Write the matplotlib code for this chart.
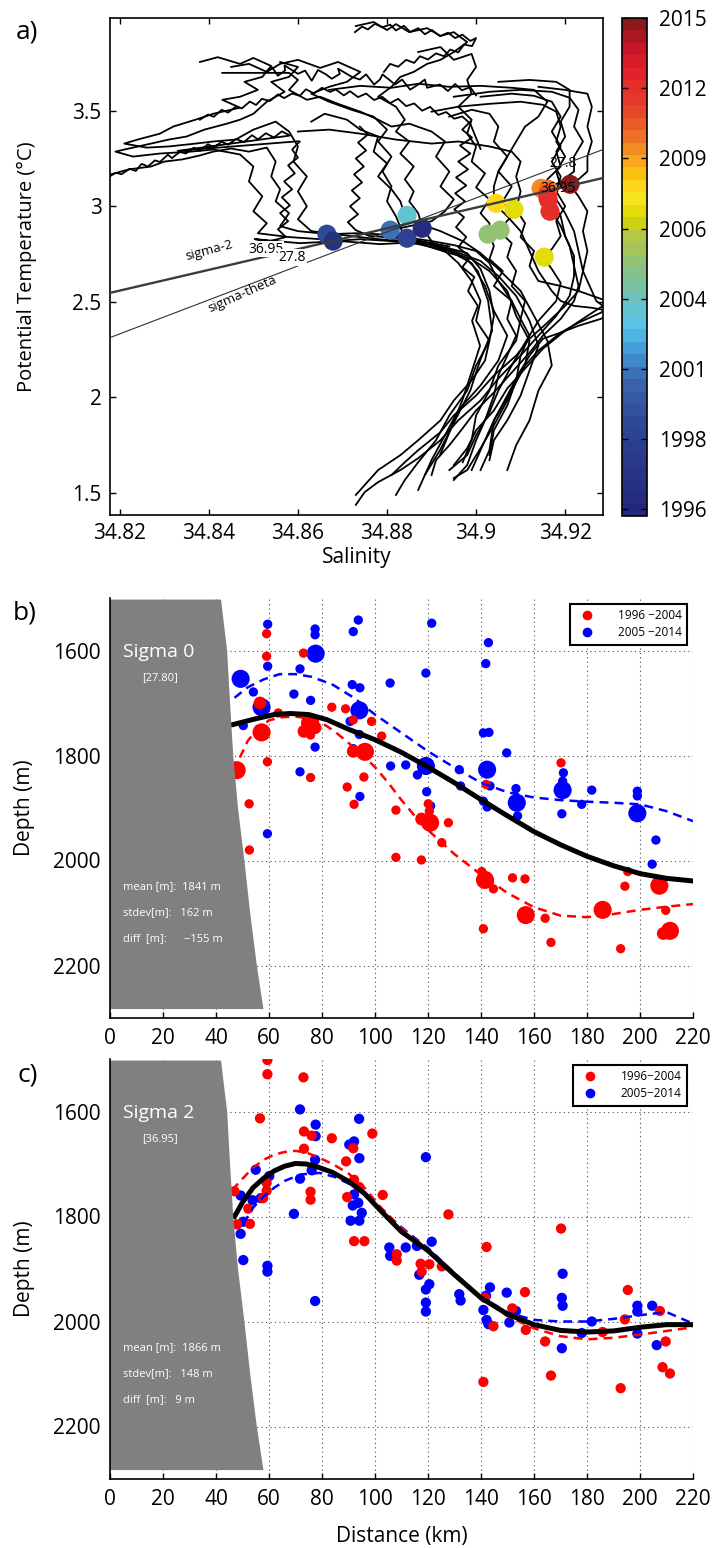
import numpy as np
import matplotlib
matplotlib.use("Agg")
import matplotlib.pyplot as plt
from matplotlib.colors import LinearSegmentedColormap, Normalize
from matplotlib.cm import ScalarMappable
from matplotlib.patches import Polygon
from matplotlib.lines import Line2D
from matplotlib.ticker import FuncFormatter

plt.rcParams["font.family"] = ["Open Sans", "DejaVu Sans"]

# ---------------- panel a: theta-S profiles (salinity, pot. temperature) ----------------
ts_p0 = [(34.838, 3.755), (34.842, 3.78), (34.847, 3.745), (34.850, 3.776), (34.854, 3.734),
         (34.852, 3.677), (34.848, 3.651), (34.851, 3.609), (34.847, 3.573), (34.843, 3.557),
         (34.847, 3.516), (34.841, 3.484), (34.837, 3.453), (34.832, 3.417), (34.829, 3.380),
         (34.824, 3.349), (34.821, 3.328), (34.826, 3.307), (34.831, 3.313), (34.837, 3.328),
         (34.841, 3.339), (34.846, 3.349), (34.850, 3.401), (34.855, 3.443), (34.858, 3.391),
         (34.860, 3.313), (34.859, 3.234), (34.862, 3.156), (34.860, 3.078), (34.862, 3.000),
         (34.860, 2.932), (34.863, 2.870), (34.872, 2.844), (34.878, 2.828), (34.885, 2.818),
         (34.892, 2.792), (34.898, 2.755), (34.901, 2.672), (34.903, 2.557), (34.904, 2.427),
         (34.903, 2.297), (34.900, 2.167), (34.898, 2.036), (34.894, 1.906), (34.891, 1.776),
         (34.887, 1.661), (34.884, 1.568), (34.882, 1.490)]
ts_p1 = [(34.873, 3.943), (34.877, 3.964), (34.880, 3.922), (34.882, 3.953), (34.885, 3.911),
         (34.889, 3.932), (34.892, 3.891), (34.895, 3.911), (34.898, 3.859), (34.895, 3.807),
         (34.892, 3.766), (34.889, 3.745), (34.886, 3.703), (34.883, 3.677), (34.881, 3.625),
         (34.878, 3.573), (34.882, 3.521), (34.884, 3.453), (34.882, 3.391), (34.885, 3.339),
         (34.883, 3.276), (34.886, 3.208), (34.884, 3.141), (34.886, 3.078), (34.885, 3.026),
         (34.887, 2.964), (34.888, 2.885), (34.890, 2.818), (34.893, 2.766), (34.896, 2.703),
         (34.899, 2.609), (34.901, 2.505), (34.900, 2.401), (34.903, 2.297), (34.902, 2.193),
         (34.899, 2.089), (34.895, 1.984), (34.892, 1.880), (34.887, 1.776), (34.883, 1.698),
         (34.878, 1.620), (34.875, 1.542), (34.873, 1.490)]
ts_p2 = [(34.856, 3.755), (34.860, 3.729), (34.858, 3.677), (34.854, 3.651), (34.857, 3.599),
         (34.853, 3.547), (34.850, 3.484), (34.847, 3.453), (34.844, 3.432), (34.839, 3.401),
         (34.835, 3.365), (34.831, 3.349), (34.827, 3.328), (34.822, 3.302), (34.819, 3.286),
         (34.823, 3.260), (34.829, 3.276), (34.836, 3.286), (34.841, 3.297), (34.847, 3.271),
         (34.850, 3.208), (34.849, 3.130), (34.852, 3.052), (34.850, 2.974), (34.853, 2.911),
         (34.851, 2.859), (34.858, 2.839), (34.865, 2.828), (34.868, 2.818), (34.874, 2.828),
         (34.881, 2.818), (34.887, 2.802), (34.894, 2.766), (34.899, 2.703), (34.902, 2.583),
         (34.904, 2.453), (34.907, 2.323), (34.905, 2.193), (34.901, 2.063), (34.896, 1.932),
         (34.893, 1.802), (34.890, 1.672), (34.887, 1.516)]
ts_p3 = [(34.818, 3.167), (34.822, 3.193), (34.827, 3.208), (34.830, 3.234), (34.834, 3.245),
         (34.838, 3.266), (34.841, 3.286), (34.845, 3.302), (34.849, 3.286), (34.853, 3.307),
         (34.855, 3.234), (34.854, 3.156), (34.856, 3.089), (34.855, 3.026), (34.858, 2.964),
         (34.856, 2.896), (34.860, 2.870), (34.867, 2.854), (34.873, 2.859), (34.878, 2.854),
         (34.884, 2.839), (34.890, 2.818), (34.895, 2.797), (34.900, 2.766), (34.903, 2.703),
         (34.905, 2.609), (34.908, 2.505), (34.910, 2.411), (34.909, 2.297), (34.905, 2.167),
         (34.903, 2.036), (34.900, 1.906), (34.899, 1.776), (34.897, 1.661)]
ts_p4 = [(34.845, 3.729), (34.849, 3.745), (34.853, 3.703), (34.856, 3.745), (34.860, 3.766),
         (34.865, 3.724), (34.869, 3.755), (34.874, 3.703), (34.871, 3.651), (34.867, 3.625),
         (34.863, 3.589), (34.867, 3.547), (34.872, 3.505), (34.877, 3.469), (34.880, 3.401),
         (34.878, 3.339), (34.881, 3.260), (34.879, 3.182), (34.881, 3.104), (34.880, 3.026),
         (34.882, 2.948), (34.884, 2.833), (34.889, 2.792), (34.894, 2.755), (34.899, 2.724),
         (34.903, 2.661), (34.907, 2.557), (34.909, 2.427), (34.912, 2.297), (34.911, 2.167),
         (34.908, 2.036), (34.904, 1.880), (34.903, 1.724), (34.901, 1.620)]
ts_p5 = [(34.843, 3.698), (34.858, 3.698), (34.860, 3.661), (34.858, 3.609), (34.862, 3.557),
         (34.865, 3.573), (34.869, 3.536), (34.874, 3.495), (34.878, 3.453), (34.881, 3.417),
         (34.885, 3.432), (34.890, 3.391), (34.893, 3.339), (34.891, 3.260), (34.894, 3.182),
         (34.892, 3.104), (34.895, 3.036), (34.893, 2.974), (34.890, 2.922), (34.885, 2.896),
         (34.881, 2.875), (34.883, 2.839), (34.889, 2.807), (34.895, 2.766), (34.901, 2.714),
         (34.905, 2.635), (34.909, 2.531), (34.912, 2.401), (34.914, 2.271), (34.912, 2.141),
         (34.910, 2.010), (34.907, 1.880), (34.904, 1.776), (34.903, 1.672)]
ts_p6 = [(34.863, 3.443), (34.866, 3.484), (34.871, 3.453), (34.874, 3.401), (34.878, 3.365),
         (34.877, 3.286), (34.880, 3.224), (34.878, 3.156), (34.881, 3.089), (34.883, 3.026),
         (34.884, 2.953), (34.887, 2.911), (34.892, 2.870), (34.897, 2.818), (34.901, 2.755),
         (34.905, 2.672), (34.910, 2.557), (34.913, 2.427), (34.916, 2.297), (34.917, 2.167),
         (34.914, 2.036), (34.912, 1.880), (34.909, 1.750), (34.907, 1.620)]
ts_p7 = [(34.887, 3.807), (34.892, 3.833), (34.895, 3.766), (34.899, 3.797), (34.900, 3.729),
         (34.898, 3.661), (34.899, 3.589), (34.896, 3.521), (34.899, 3.453), (34.898, 3.380),
         (34.900, 3.313), (34.899, 3.234), (34.902, 3.172), (34.900, 3.099), (34.903, 3.036),
         (34.901, 2.964), (34.903, 2.911), (34.903, 2.854), (34.904, 2.792), (34.903, 2.724),
         (34.906, 2.661), (34.904, 2.583), (34.908, 2.505), (34.907, 2.411), (34.909, 2.323),
         (34.907, 2.219), (34.905, 2.115), (34.904, 2.010), (34.902, 1.880), (34.900, 1.776),
         (34.898, 1.646), (34.895, 1.568)]
ts_p8 = [(34.894, 3.469), (34.899, 3.505), (34.903, 3.484), (34.905, 3.417), (34.904, 3.339),
         (34.907, 3.260), (34.905, 3.182), (34.908, 3.104), (34.906, 3.026), (34.908, 2.948),
         (34.905, 2.875), (34.908, 2.807), (34.907, 2.734), (34.909, 2.661), (34.908, 2.583),
         (34.911, 2.505), (34.910, 2.411), (34.912, 2.323), (34.910, 2.219), (34.909, 2.089),
         (34.907, 1.958), (34.904, 1.828), (34.903, 1.698)]
ts_p9 = [(34.867, 3.609), (34.874, 3.630), (34.881, 3.620), (34.887, 3.641), (34.894, 3.625),
         (34.901, 3.630), (34.908, 3.620), (34.913, 3.609), (34.916, 3.547), (34.914, 3.469),
         (34.911, 3.417), (34.909, 3.339), (34.907, 3.260), (34.905, 3.182), (34.904, 3.104),
         (34.904, 3.016), (34.907, 2.948), (34.910, 2.870), (34.912, 2.766), (34.914, 2.661),
         (34.917, 2.557), (34.919, 2.505), (34.922, 2.479), (34.926, 2.469), (34.931, 2.448),
         (34.928, 2.411), (34.923, 2.375), (34.919, 2.339), (34.914, 2.245), (34.910, 2.141),
         (34.907, 2.010), (34.904, 1.880), (34.901, 1.724), (34.899, 1.620)]
ts_p10 = [(34.860, 3.391), (34.867, 3.401), (34.874, 3.380), (34.882, 3.349), (34.890, 3.328),
          (34.896, 3.339), (34.903, 3.313), (34.908, 3.286), (34.910, 3.234), (34.909, 3.156),
          (34.910, 3.078), (34.909, 2.984), (34.911, 2.911), (34.910, 2.839), (34.913, 2.766),
          (34.912, 2.688), (34.914, 2.609), (34.919, 2.583), (34.923, 2.557), (34.928, 2.516),
          (34.931, 2.490), (34.928, 2.443), (34.923, 2.391), (34.919, 2.339), (34.915, 2.307),
          (34.912, 2.219), (34.909, 2.099), (34.907, 1.984), (34.904, 1.854), (34.901, 1.734),
          (34.898, 1.620), (34.895, 1.578)]
ts_p11 = [(34.901, 3.573), (34.908, 3.589), (34.913, 3.578), (34.917, 3.547), (34.919, 3.469),
          (34.917, 3.391), (34.919, 3.313), (34.917, 3.234), (34.919, 3.156), (34.918, 3.078),
          (34.920, 3.000), (34.918, 2.922), (34.919, 2.844), (34.917, 2.776), (34.915, 2.734),
          (34.917, 2.672), (34.919, 2.599), (34.918, 2.505), (34.914, 2.401), (34.911, 2.286),
          (34.908, 2.167), (34.905, 2.036), (34.903, 1.922), (34.900, 1.802), (34.898, 1.698),
          (34.894, 1.620)]
ts_p12 = [(34.905, 3.651), (34.912, 3.661), (34.918, 3.651), (34.921, 3.609), (34.921, 3.521),
          (34.919, 3.443), (34.920, 3.365), (34.918, 3.286), (34.919, 3.208), (34.916, 3.141),
          (34.915, 3.094), (34.917, 3.026), (34.919, 2.948), (34.920, 2.844), (34.922, 2.740),
          (34.922, 2.635), (34.921, 2.531), (34.918, 2.427), (34.914, 2.323), (34.910, 2.219),
          (34.905, 2.099), (34.901, 1.984), (34.896, 1.880), (34.892, 1.776), (34.887, 1.682),
          (34.883, 1.620), (34.878, 1.557), (34.875, 1.505), (34.873, 1.438)]
ts_p13 = [(34.895, 3.573), (34.903, 3.599), (34.910, 3.609), (34.917, 3.599), (34.921, 3.568),
          (34.923, 3.505), (34.922, 3.417), (34.924, 3.339), (34.922, 3.260), (34.922, 3.182),
          (34.919, 3.130), (34.916, 3.089), (34.918, 3.036), (34.920, 2.964), (34.922, 2.870),
          (34.923, 2.766), (34.924, 2.661), (34.923, 2.557), (34.920, 2.479), (34.916, 2.391),
          (34.912, 2.307), (34.909, 2.219), (34.904, 2.115), (34.900, 2.010), (34.895, 1.906),
          (34.892, 1.818), (34.887, 1.724), (34.884, 1.661), (34.881, 1.594)]
ts_p14 = [(34.890, 3.495), (34.896, 3.521), (34.903, 3.536), (34.910, 3.547), (34.915, 3.531),
          (34.918, 3.495), (34.919, 3.417), (34.918, 3.339), (34.920, 3.260), (34.918, 3.182),
          (34.919, 3.104), (34.916, 3.036), (34.917, 2.974), (34.919, 2.896), (34.921, 2.792),
          (34.922, 2.688), (34.923, 2.583), (34.922, 2.505), (34.919, 2.411), (34.915, 2.323),
          (34.912, 2.234), (34.908, 2.130), (34.904, 2.026), (34.900, 1.932), (34.897, 1.839),
          (34.894, 1.750), (34.891, 1.672), (34.890, 1.594)]
ts_p15 = [(34.914, 3.625), (34.920, 3.609), (34.925, 3.589), (34.926, 3.521), (34.925, 3.417),
          (34.926, 3.339), (34.925, 3.260), (34.925, 3.182), (34.923, 3.141), (34.921, 3.115),
          (34.923, 3.052), (34.925, 2.974), (34.924, 2.870), (34.925, 2.766), (34.924, 2.661),
          (34.926, 2.557), (34.927, 2.505), (34.9285, 2.479), (34.925, 2.427), (34.920, 2.349),
          (34.915, 2.255), (34.911, 2.151), (34.907, 2.047), (34.904, 1.932), (34.900, 1.828),
          (34.898, 1.734), (34.895, 1.646)]
# finer, noisier pieces in the warm upper part
ts_b1 = [(34.8526, 3.700), (34.8542, 3.727), (34.8555, 3.683), (34.8571, 3.710), (34.8570, 3.737),
         (34.8600, 3.693), (34.8616, 3.710), (34.8631, 3.657), (34.8645, 3.713), (34.8663, 3.690),
         (34.8676, 3.667), (34.8694, 3.693), (34.8690, 3.720), (34.8721, 3.677), (34.8739, 3.663),
         (34.8753, 3.690), (34.8771, 3.637), (34.8784, 3.663), (34.8790, 3.690), (34.8818, 3.637),
         (34.8834, 3.663), (34.8852, 3.610), (34.8870, 3.637), (34.8885, 3.663), (34.8890, 3.620),
         (34.8919, 3.637), (34.8937, 3.603), (34.8953, 3.640), (34.8968, 3.607), (34.8987, 3.623),
         (34.9000, 3.580)]
ts_b2 = [(34.8380, 3.453), (34.8398, 3.480), (34.8411, 3.468), (34.8429, 3.505), (34.8443, 3.490),
         (34.8461, 3.522), (34.8474, 3.512), (34.8492, 3.548), (34.8506, 3.530), (34.8519, 3.562),
         (34.8537, 3.551), (34.8555, 3.585), (34.8569, 3.566), (34.8587, 3.590), (34.8604, 3.578),
         (34.8618, 3.612), (34.8636, 3.590), (34.8654, 3.620), (34.8672, 3.598), (34.8685, 3.611),
         (34.8703, 3.580), (34.8717, 3.602), (34.8735, 3.571), (34.8753, 3.590), (34.8771, 3.556),
         (34.8789, 3.573), (34.8807, 3.540), (34.8825, 3.562), (34.8843, 3.524), (34.8861, 3.538),
         (34.8879, 3.500), (34.8897, 3.520), (34.8915, 3.478), (34.8933, 3.493), (34.8951, 3.458),
         (34.8969, 3.470), (34.8987, 3.432), (34.9010, 3.300)]
ts_b3 = [(34.8173, 3.151), (34.8191, 3.175), (34.8204, 3.168), (34.8222, 3.196), (34.8236, 3.185),
         (34.8249, 3.222), (34.8263, 3.208), (34.8279, 3.240), (34.8290, 3.232), (34.8308, 3.270),
         (34.8317, 3.252), (34.8335, 3.285), (34.8348, 3.276), (34.8366, 3.306), (34.8380, 3.290),
         (34.8398, 3.325), (34.8411, 3.308), (34.8429, 3.338), (34.8443, 3.322), (34.8461, 3.352),
         (34.8479, 3.336), (34.8497, 3.372), (34.8510, 3.350), (34.8528, 3.382), (34.8546, 3.360),
         (34.8564, 3.392), (34.8582, 3.370), (34.8330, 3.290), (34.8600, 3.340)]
ts_b4 = [(34.8604, 3.339), (34.8587, 3.297), (34.8600, 3.255), (34.8578, 3.214), (34.8593, 3.172),
         (34.8569, 3.130), (34.8587, 3.089), (34.8564, 3.047), (34.8582, 3.005), (34.8560, 2.964),
         (34.8578, 2.922), (34.8555, 2.880), (34.8573, 2.839), (34.8537, 2.818), (34.8503, 2.828),
         (34.8604, 2.807), (34.8694, 2.818), (34.8784, 2.802), (34.8874, 2.813), (34.8930, 2.776),
         (34.8975, 2.734), (34.9004, 2.661), (34.9027, 2.505), (34.9036, 2.349), (34.9009, 2.193),
         (34.8987, 2.036), (34.8953, 1.880), (34.8919, 1.724), (34.8885, 1.594)]
ts_b5 = [(34.8739, 3.417), (34.8757, 3.375), (34.8735, 3.333), (34.8753, 3.292), (34.8730, 3.250),
         (34.8748, 3.208), (34.8726, 3.167), (34.8744, 3.125), (34.8721, 3.083), (34.8739, 3.042),
         (34.8717, 3.000), (34.8735, 2.958), (34.8712, 2.917), (34.8730, 2.875), (34.8760, 2.845),
         (34.8850, 2.830), (34.8940, 2.790)]
ts_b6 = [(34.8987, 3.443), (34.8969, 3.401), (34.8991, 3.359), (34.8964, 3.318), (34.8987, 3.276),
         (34.8960, 3.234), (34.8982, 3.193), (34.8955, 3.151), (34.8978, 3.109), (34.8953, 3.068),
         (34.8975, 3.026), (34.8951, 2.984), (34.8973, 2.943), (34.8955, 2.891), (34.8978, 2.839),
         (34.8960, 2.786), (34.8987, 2.734), (34.8969, 2.682), (34.8996, 2.630), (34.8982, 2.557),
         (34.9004, 2.479), (34.8991, 2.401), (34.9009, 2.271), (34.8991, 2.141), (34.8969, 1.984),
         (34.8942, 1.828), (34.8919, 1.698)]
ts_b7 = [(34.8728, 3.911), (34.8744, 3.940), (34.8757, 3.925), (34.8773, 3.955), (34.8789, 3.936),
         (34.8807, 3.950), (34.8820, 3.920), (34.8838, 3.944), (34.8852, 3.912), (34.8870, 3.932),
         (34.8885, 3.900), (34.8901, 3.922), (34.8919, 3.890), (34.8937, 3.908), (34.8953, 3.880),
         (34.8969, 3.898), (34.8987, 3.865), (34.9000, 3.880), (34.8991, 3.838), (34.8973, 3.846),
         (34.8960, 3.805), (34.8942, 3.820), (34.8928, 3.785), (34.8910, 3.800), (34.8892, 3.768),
         (34.8874, 3.785), (34.8861, 3.750), (34.8843, 3.766), (34.8825, 3.730), (34.8807, 3.745),
         (34.8793, 3.703)]

# coloured markers where each profile meets the 36.95 isopycnal
dot_sal = [34.8665, 34.8679, 34.8807, 34.8845, 34.8845, 34.8879, 34.9027, 34.9054,
           34.9045, 34.9085, 34.9153, 34.9146, 34.9162, 34.9160, 34.9162, 34.9166, 34.9211]
dot_temp = [2.854, 2.818, 2.875, 2.953, 2.833, 2.885, 2.854, 2.875,
            3.016, 2.984, 2.734, 3.094, 3.089, 3.060, 3.036, 2.974, 3.115]
dot_year = [1999.6, 1997.4, 2001.5, 2003.8, 1999.2, 1996.7, 2005.5, 2005.5,
            2008.4, 2007.4, 2007.4, 2009.8, 2010.3, 2011.6, 2012.3, 2012.3, 2014.6]

# isopycnals (end points read at the axes edges)
sigma2_sal = [34.8178, 34.9285]
sigma2_temp = [2.547, 3.148]
sigmath_sal = [34.8178, 34.9285]
sigmath_temp = [2.313, 3.297]

# colour scale
cmap_pos = [0.0, 0.166, 0.267, 0.334, 0.38, 0.434, 0.50, 0.568, 0.60, 0.648,
            0.689, 0.729, 0.782, 0.836, 0.903, 0.95, 0.983, 1.0]
cmap_hex = ["#23287a", "#2e4593", "#3c64ac", "#42a0d8", "#58c4ea", "#6ec2bc", "#8cc080",
            "#b8c840", "#d4d800", "#fde520", "#fcc410", "#f59a22", "#ea6425", "#e43c2a",
            "#e2222a", "#c8162a", "#a0161f", "#8a1a1a"]
cb_ticks = [1996.25, 1998.93, 2001.61, 2004.29, 2006.96, 2009.64, 2012.32, 2015.0]
cb_labels = ["1996", "1998", "2001", "2004", "2006", "2009", "2012", "2015"]

# ---------------- panels b, c: isopycnal depth along the section ----------------
shelf_km = [0, 41.9, 43.0, 44.2, 45.3, 46.5, 48.3, 50.7, 52.9, 55.4, 57.9, 0]
shelf_depth = [1503, 1503, 1550, 1600, 1700, 1800, 1900, 2000, 2100, 2200, 2283, 2283]

# b) sigma 0 = 27.80 ; weight = relative marker size class
b_red_km = [59.1, 59.1, 73.0, 56.6, 57.2, 47.8, 59.4, 52.5, 52.6, 75.5, 73.2, 77.4, 75.7, 75.7,
            63.5, 83.7, 88.9, 91.8, 98.7, 96.2, 91.8, 95.8, 89.5, 92.1, 102.5, 107.9, 107.9,
            117.5, 120.1, 120.5, 117.6, 120.8, 127.7, 125.2, 141.9, 140.3, 141.5, 144.7, 140.9,
            151.9, 156.6, 156.9, 164.2, 166.4, 170.2, 185.9, 192.7, 194.3, 195.4, 207.3, 209.7,
            211.3, 208.8]
b_red_depth = [1568, 1611, 1605, 1700, 1756, 1828, 1812, 1892, 1980, 1738, 1754, 1747, 1761, 1842,
               1719, 1708, 1711, 1732, 1735, 1793, 1792, 1841, 1860, 1893, 1763, 1904, 1994,
               1999, 1892, 1906, 1921, 1928, 1928, 1966, 1855, 2021, 2037, 2054, 2130,
               2033, 2035, 2104, 2110, 2156, 1814, 2094, 2168, 2049, 2021, 2048, 2095,
               2134, 2139]
b_red_w = [1, 1, 1, 2, 3, 3, 1, 1, 1, 3, 2, 2, 1, 1,
           1, 1, 1, 1, 1, 3, 2, 1, 1, 1, 1, 1, 1,
           1, 1, 1, 2, 3, 1, 1, 1, 1, 3, 1, 1,
           1, 1, 3, 1, 1, 1, 3, 1, 1, 1, 3, 1,
           3, 2]
b_blue_km = [59.5, 59.5, 77.4, 77.4, 77.6, 93.7, 91.8, 49.3, 54.1, 57.2, 50.3, 71.7, 69.4, 75.7,
             77.4, 71.7, 59.4, 91.4, 94.3, 94.1, 90.6, 94.1, 91.8, 94.3, 105.7, 105.9, 121.4,
             119.2, 142.8, 141.8, 140.9, 143.0, 149.7, 111.6, 116.0, 119.2, 119.5, 121.0, 131.8,
             132.3, 142.3, 143.4, 140.9, 142.3, 153.2, 153.5, 153.8, 170.8, 171.1, 170.8, 170.5,
             178.0, 181.8, 199.0, 199.0, 199.0, 206.0, 204.6]
b_blue_depth = [1550, 1630, 1559, 1570, 1606, 1542, 1564, 1654, 1679, 1708, 1743, 1635, 1683, 1695,
                1784, 1831, 1949, 1665, 1671, 1714, 1735, 1760, 1787, 1878, 1662, 1820, 1548,
                1643, 1585, 1625, 1757, 1756, 1795, 1818, 1837, 1820, 1869, 1896, 1827,
                1858, 1827, 1858, 1887, 1898, 1863, 1890, 1915, 1866, 1833, 1849, 1911,
                1893, 1866, 1868, 1877, 1910, 1961, 2007]
b_blue_w = [1, 1, 1, 1, 3, 1, 1, 3, 1, 3, 1, 1, 1, 1,
            1, 1, 1, 1, 1, 3, 1, 1, 1, 1, 1, 1, 1,
            1, 1, 1, 1, 1, 1, 1, 1, 3, 1, 1, 1,
            1, 3, 1, 1, 1, 1, 3, 1, 3, 1, 1, 1,
            1, 1, 1, 1, 3, 1, 1]
b_mean_km = [46.5, 55, 62, 68, 75, 82, 90, 100, 110, 120, 130, 140, 150, 160, 170, 180, 190,
             200, 210, 220]
b_mean_depth = [1741, 1730, 1722, 1720, 1722, 1732, 1750, 1770, 1794, 1822, 1852, 1884, 1915,
                1945, 1970, 1992, 2010, 2025, 2034, 2039]
b_early_km = [49, 52, 56, 60, 65, 70, 75, 80, 85, 90, 95, 100, 105, 110, 115, 120, 130, 140,
              150, 160, 170, 180, 190, 200, 210, 220]
b_early_depth = [1804, 1772, 1748, 1733, 1727, 1726, 1729, 1738, 1755, 1776, 1798, 1822, 1852,
                 1885, 1915, 1942, 1988, 2027, 2062, 2089, 2105, 2108, 2102, 2094, 2088, 2083]
b_late_km = [47, 52, 58, 64, 70, 76, 84, 92, 100, 110, 120, 130, 140, 150, 160, 170, 180, 190,
             200, 210, 220]
b_late_depth = [1690, 1670, 1655, 1645, 1645, 1650, 1665, 1690, 1722, 1757, 1792, 1823, 1852,
                1870, 1880, 1885, 1888, 1890, 1893, 1906, 1925]

# c) sigma 2 = 36.95
c_red_km = [59.4, 59.4, 73.0, 56.6, 73.2, 76.1, 83.7, 73.2, 91.8, 99.0, 89.1, 92.1, 94.1, 89.5,
            102.9, 59.1, 59.1, 75.7, 75.7, 57.8, 47.0, 52.2, 52.8, 48.0, 92.1, 96.0, 108.2,
            108.2, 117.2, 117.6, 120.5, 125.2, 127.7, 142.1, 141.5, 144.7, 140.9, 151.8, 156.6,
            156.9, 164.2, 166.4, 170.2, 185.9, 192.7, 194.3, 195.4, 207.5, 209.7, 208.5, 211.3]
c_red_depth = [1502, 1529, 1535, 1613, 1638, 1646, 1651, 1671, 1670, 1642, 1695, 1730, 1744, 1763,
               1759, 1736, 1751, 1753, 1768, 1765, 1752, 1785, 1814, 1815, 1847, 1847, 1872,
               1884, 1890, 1905, 1891, 1895, 1796, 1858, 1955, 2009, 2115, 1975, 1944,
               2016, 2038, 2103, 1823, 2020, 2127, 1996, 1940, 1980, 2038, 2087, 2099]
c_blue_km = [71.7, 94.0, 77.6, 77.6, 90.3, 92.1, 94.1, 77.4, 55.0, 76.1, 71.7, 60.1, 49.3, 53.8,
             56.9, 92.1, 91.6, 93.7, 95.0, 94.1, 90.8, 69.4, 50.3, 49.3, 50.3, 59.4, 59.4, 77.4,
             105.4, 105.7, 119.2, 111.6, 115.8, 121.4, 116.7, 119.2, 120.5, 119.2, 119.2, 131.8,
             132.3, 141.9, 143.4, 140.9, 142.1, 142.8, 149.7, 153.2, 150.7, 170.8, 170.5, 170.8,
             170.5, 178.0, 181.8, 199.0, 199.0, 199.0, 204.6, 206.3]
c_blue_depth = [1596, 1614, 1625, 1647, 1663, 1657, 1689, 1692, 1711, 1712, 1728, 1723, 1760, 1769,
                1765, 1758, 1779, 1774, 1793, 1808, 1808, 1795, 1810, 1833, 1883, 1894, 1905, 1961,
                1859, 1875, 1687, 1859, 1856, 1848, 1911, 1939, 1929, 1964, 1981, 1948,
                1960, 1951, 1935, 1978, 1997, 2005, 1945, 1980, 2002, 1909, 1955, 1970,
                2051, 2022, 2000, 1970, 1981, 2023, 1970, 2045]
c_mean_km = [47, 50, 54, 58, 62, 66, 70, 74, 78, 84, 90, 96, 102, 110, 120, 130, 140, 150, 160,
             170, 180, 190, 200, 210, 220]
c_mean_depth = [1800, 1773, 1745, 1727, 1713, 1704, 1699, 1700, 1705, 1716, 1733, 1756, 1788,
                1829, 1865, 1911, 1955, 1986, 2006, 2017, 2020, 2018, 2011, 2006, 2006]
c_early_km = [46, 50, 54, 58, 62, 66, 70, 74, 78, 84, 90, 96, 102, 110, 120, 130, 140, 150, 160,
              170, 180, 190, 200, 210, 220]
c_early_depth = [1750, 1728, 1707, 1692, 1682, 1677, 1675, 1678, 1686, 1700, 1718, 1745, 1782,
                 1822, 1863, 1910, 1955, 1990, 2013, 2028, 2034, 2031, 2025, 2018, 2011]
c_late_km = [48, 51, 54, 58, 62, 66, 72, 79, 85, 92, 100, 107, 113, 120, 130, 140, 150, 160,
             170, 180, 190, 200, 210, 220]
c_late_depth = [1840, 1808, 1783, 1762, 1745, 1732, 1720, 1717, 1725, 1742, 1772, 1808, 1833,
                1860, 1908, 1953, 1983, 1997, 2000, 2000, 1995, 1988, 1982, 2004]

# ---------------------------------------------------------------------------------
W, H = 713, 1548
fig = plt.figure(figsize=(W / 100, H / 100), dpi=100)


def px_axes(left, top, right, bottom):
    return fig.add_axes([left / W, 1 - bottom / H, (right - left) / W, (bottom - top) / H])


ax_a = px_axes(110, 18, 603, 515)
cax = px_axes(622, 18, 647, 516)
ax_b = px_axes(110, 598, 693, 1018)
ax_c = px_axes(110, 1059, 693, 1479)

cmap = LinearSegmentedColormap.from_list("yrs", list(zip(cmap_pos, cmap_hex)), N=40)
norm = Normalize(1996, 2015)

# ---- a)
profiles = [ts_p0, ts_p1, ts_p2, ts_p3, ts_p4, ts_p5, ts_p6, ts_p7, ts_p8, ts_p9,
            ts_p10, ts_p11, ts_p12, ts_p13, ts_p14, ts_p15,
            ts_b1, ts_b2, ts_b3, ts_b4, ts_b5, ts_b6, ts_b7]
for prof in profiles:
    s, t = np.array(prof).T
    ax_a.plot(s, t, color="k", lw=1.3, zorder=2)
ax_a.scatter(dot_sal, dot_temp, c=dot_year, cmap=cmap, norm=norm, s=190,
             edgecolors="none", zorder=2.7)
ax_a.plot(sigma2_sal, sigma2_temp, color="#3c3c3c", lw=1.7, zorder=2.8)
ax_a.plot(sigmath_sal, sigmath_temp, color="#303030", lw=0.8, zorder=2.8)
wbox = dict(facecolor="white", edgecolor="none", pad=0.5)
ax_a.text(34.8528, 2.776, "36.95", fontsize=10, ha="center", va="center", bbox=wbox, zorder=3)
ax_a.text(34.8587, 2.732, "27.8", fontsize=10, ha="center", va="center", bbox=wbox, zorder=3)
ax_a.text(34.9196, 3.224, "27.8", fontsize=10, ha="center", va="center", bbox=wbox, zorder=1.5)
ax_a.text(34.9184, 3.094, "36.95", fontsize=10, ha="center", va="center", zorder=3)
ax_a.text(34.8400, 2.768, "sigma-2", fontsize=9.5, ha="center", va="center", rotation=15, zorder=3)
ax_a.text(34.8476, 2.542, "sigma-theta", fontsize=9.5, ha="center", va="center", rotation=24, zorder=3)

ax_a.set_xlim(34.8178, 34.9285)
ax_a.set_ylim(1.385, 3.985)
ax_a.set_xticks([34.82, 34.84, 34.86, 34.88, 34.90, 34.92])
ax_a.set_yticks([1.5, 2.0, 2.5, 3.0, 3.5])
ax_a.xaxis.set_major_formatter(FuncFormatter(lambda v, p: f"{v:g}"))
ax_a.yaxis.set_major_formatter(FuncFormatter(lambda v, p: f"{v:g}"))
ax_a.tick_params(direction="in", top=True, right=True, length=4, width=1, labelsize=15, pad=6)
for sp in ax_a.spines.values():
    sp.set_linewidth(1.2)
ax_a.set_xlabel("Salinity", fontsize=15)
ax_a.set_ylabel("Potential Temperature (°C)", fontsize=14.5)
ax_a.xaxis.set_label_coords(0.5, -0.064)
ax_a.yaxis.set_label_coords(-0.148, 0.5)

cb = fig.colorbar(ScalarMappable(norm=norm, cmap=cmap), cax=cax)
cb.set_ticks(cb_ticks)
cb.set_ticklabels(cb_labels)
cb.ax.tick_params(direction="in", left=True, right=True, length=4, width=1, labelsize=15, pad=9)
cb.outline.set_linewidth(1.2)

# ---- b), c)
size_of = {1: 45, 2: 85, 3: 170}


def section(ax, red_km, red_d, red_s, blue_km, blue_d, blue_s, mean, early, late,
            name, level, stats, leg_labels):
    ax.scatter(blue_km, blue_d, s=blue_s, color="#0000ff", edgecolors="none", zorder=1.0)
    ax.scatter(red_km, red_d, s=red_s, color="#ff0000", edgecolors="none", zorder=1.1)
    ax.plot(*late, color="#0000ff", lw=1.8, ls=(0, (3.6, 2.4)), zorder=1.3)
    ax.plot(*early, color="#ff0000", lw=1.8, ls=(0, (3.6, 2.4)), zorder=1.3)
    ax.plot(*mean, color="k", lw=3.6, zorder=1.4)
    ax.add_patch(Polygon(np.column_stack([shelf_km, shelf_depth]), closed=True,
                         facecolor="#808080", edgecolor="none", zorder=2))
    ax.text(4.9, 1602, name, color="w", fontsize=14, ha="left", va="center", zorder=6)
    ax.text(18.9, 1651, level, color="w", fontsize=8, ha="center", va="center", zorder=6)
    for txt, d in zip(stats, [2050, 2100, 2149]):
        ax.text(4.9, d, txt, color="w", fontsize=8, ha="left", va="center", zorder=6)
    ax.set_xlim(0, 220)
    ax.set_ylim(2300, 1500)
    ax.set_xticks(range(0, 221, 20))
    ax.set_yticks([1600, 1800, 2000, 2200])
    ax.set_axisbelow(True)
    ax.grid(True, color="0.3", lw=0.8, ls=(0, (1, 3)))
    ax.spines["top"].set_visible(False)
    ax.spines["right"].set_visible(False)
    for sp in ("left", "bottom"):
        ax.spines[sp].set_linewidth(1.2)
        ax.spines[sp].set_zorder(5)
    ax.tick_params(direction="in", length=4, width=1, labelsize=15, pad=7)
    ax.set_ylabel("Depth (m)", fontsize=15)
    ax.yaxis.set_label_coords(-0.129, 0.5)
    handles = [Line2D([], [], ls="none", marker="o", ms=7, color="#ff0000", mec="none"),
               Line2D([], [], ls="none", marker="o", ms=7, color="#0000ff", mec="none")]
    leg = ax.legend(handles, leg_labels, loc="upper right", fontsize=8.5, fancybox=False,
                    edgecolor="k", framealpha=1, borderaxespad=0.5, handletextpad=1.6,
                    borderpad=0.45, labelspacing=0.35)
    leg.get_frame().set_linewidth(1.5)
    leg.set_zorder(7)


section(ax_b, b_red_km, b_red_depth, [size_of[w] for w in b_red_w],
        b_blue_km, b_blue_depth, [size_of[w] for w in b_blue_w],
        (b_mean_km, b_mean_depth), (b_early_km, b_early_depth), (b_late_km, b_late_depth),
        "Sigma 0", "[27.80]",
        ["mean [m]:  1841 m", "stdev[m]:   162 m", "diff  [m]:      \u2212155 m"],
        ["1996 \u22122004", "2005 \u22122014"])
section(ax_c, c_red_km, c_red_depth, 55, c_blue_km, c_blue_depth, 55,
        (c_mean_km, c_mean_depth), (c_early_km, c_early_depth), (c_late_km, c_late_depth),
        "Sigma 2", "[36.95]",
        ["mean [m]:  1866 m", "stdev[m]:   148 m", "diff  [m]:   9 m"],
        ["1996\u22122004", "2005\u22122014"])
ax_c.set_xlabel("Distance (km)", fontsize=15)
ax_c.xaxis.set_label_coords(0.5, -0.112)

fig.text(27 / W, 1 - 32 / H, "a)", fontsize=19, ha="center", va="center")
fig.text(25 / W, 1 - 613 / H, "b)", fontsize=19, ha="center", va="center")
fig.text(28 / W, 1 - 1075 / H, "c)", fontsize=19, ha="center", va="center")

fig.savefig("out.png", dpi=100)
